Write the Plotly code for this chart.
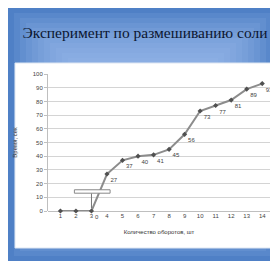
import plotly.graph_objects as go

# ---- data ----
turns = list(range(1, 15))
tick_labels = [str(t) for t in turns]
values = [0, 0, 0, 27, 37, 40, 41, 45, 56, 73, 77, 81, 89, 93]
point_labels = ["", ""] + [str(v) for v in values[2:]]
y_ticks = list(range(0, 101, 10))

title_text = "Эксперимент по размешиванию соли"
x_title = "Количество оборотов, шт"
y_title = "Время, сек"

# page is drawn with an 8px body offset
W, H = 270, 253
L, R, T, B = 40, 8, 66, 50
PW, PH = W - L - R, H - T - B


def px(x):
    return (x - L) / PW


def py(y):
    return 1 - (y - T) / PH


fig = go.Figure()
fig.add_trace(go.Scatter(
    x=turns, y=values, mode="lines+markers+text",
    text=point_labels, textposition="bottom right",
    textfont=dict(size=6, color="#444444", family="Liberation Sans"),
    line=dict(color="#8c8c8c", width=2),
    marker=dict(color="#505050", size=4, symbol="diamond"),
    hoverinfo="skip", showlegend=False, cliponaxis=False,
))

shapes = []
# lighter inner gradient layers over the blue paper
n = 10
for i in range(n):
    f = (i + 1) / n
    shapes.append(dict(type="rect", xref="paper", yref="paper", layer="below",
                       x0=px(0 + 60 * f), x1=px(W - 60 * f),
                       y0=py(0 + 50 * f), y1=py(H - 50 * f),
                       fillcolor="rgba(160,195,240,0.13)", line=dict(width=0)))
# white panel
shapes.append(dict(type="rect", xref="paper", yref="paper", layer="below",
                   x0=px(7), x1=px(265), y0=py(55), y1=py(240),
                   fillcolor="white", line=dict(color="#dde6f2", width=1)))
# callout box and leader line
shapes.append(dict(type="line", xref="x", yref="y", x0=3.0, x1=3.0, y0=13, y1=2,
                   line=dict(color="#777777", width=1)))
shapes.append(dict(type="rect", xref="x", yref="y", x0=1.9, x1=4.2, y0=13, y1=15.5,
                   fillcolor="white", line=dict(color="#888888", width=1)))

fig.update_layout(
    width=W, height=H,
    margin=dict(l=L, r=R, t=T, b=B),
    paper_bgcolor="#4f80c6",
    plot_bgcolor="rgba(0,0,0,0)",
    shapes=shapes,
    title=dict(text=title_text, x=137 / W, xanchor="center",
               y=1 - 25 / H, yanchor="middle", yref="container",
               font=dict(family="Liberation Serif", size=15.5, color="#0c1630")),
    xaxis=dict(range=[0.2, 14.5], tickmode="array", tickvals=turns, ticktext=tick_labels,
               showgrid=False, zeroline=False, showline=False,
               tickfont=dict(size=6, color="#444444", family="Liberation Sans"),
               ticks="", title=dict(text=x_title, standoff=11,
                                    font=dict(size=6, color="#333333", family="Liberation Sans"))),
    yaxis=dict(range=[0, 100], tickmode="array", tickvals=y_ticks,
               showgrid=True, gridcolor="#d4d4d4", gridwidth=1,
               zeroline=True, zerolinecolor="#bfbfbf", zerolinewidth=1,
               showline=True, linecolor="#bfbfbf", linewidth=1,
               ticks="outside", ticklen=3, tickcolor="#bfbfbf",
               tickfont=dict(size=6, color="#444444", family="Liberation Sans"),
               title=dict(text=y_title, standoff=14,
                          font=dict(size=6, color="#333333", family="Liberation Sans"))),
)

fig.write_html("out.html")
